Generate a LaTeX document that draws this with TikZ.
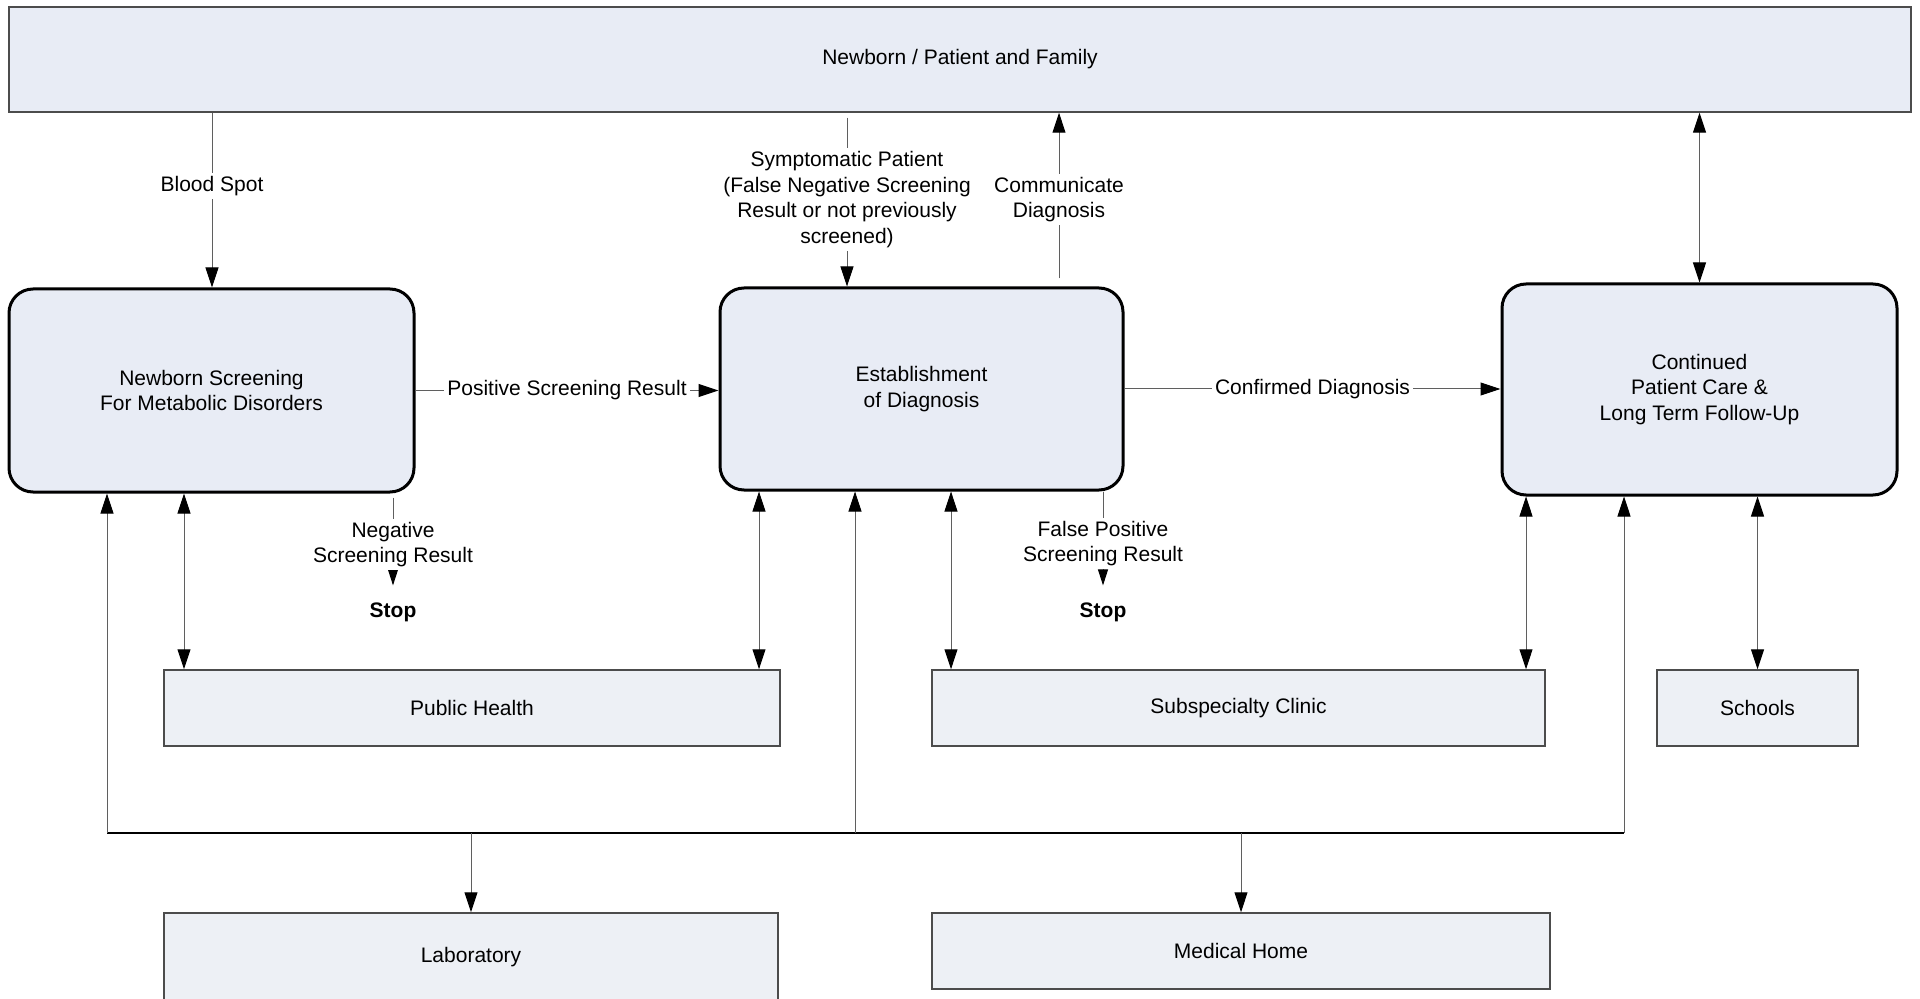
\documentclass[tikz,border=0pt]{standalone}
\usepackage{fontspec}
\setmainfont{Liberation Sans}
\usetikzlibrary{arrows.meta}
\definecolor{boxfill}{RGB}{232,236,245}
\definecolor{lowfill}{RGB}{237,240,245}
\definecolor{wire}{RGB}{95,95,95}
\tikzset{
  txt/.style={font=\fontsize{10.5}{12.8}\selectfont, align=center},
  stage/.style={txt, draw=black, line width=1.5pt, fill=boxfill, rounded corners=12pt},
  party/.style={txt, draw=black!70, line width=0.75pt, fill=lowfill},
  stopnode/.style={txt, font=\fontsize{10.5}{12.8}\selectfont\bfseries},
  conn/.style={draw=wire, line width=0.5pt},
  arr/.style={conn, -{Triangle[length=10pt,width=6.5pt,color=black]}},
  dbl/.style={conn, {Triangle[length=10pt,width=6.5pt,color=black]}-{Triangle[length=10pt,width=6.5pt,color=black]}},
  halt/.style={conn, shorten <=2pt, shorten >=5pt, -{Triangle[length=8pt,width=5pt,color=black]}},
  lbl/.style={txt, fill=white, inner sep=1.5pt},
}
\begin{document}
\begin{tikzpicture}[x=0.5pt,y=0.5pt,yscale=-1,xscale=1]
\useasboundingbox (0,0) rectangle (1920,999);

%Rectangles
\node[party, fill=boxfill, minimum width=951pt, minimum height=52.5pt] (fam) at (960,59.5) {Newborn / Patient and Family};
\node[party, minimum width=308pt, minimum height=38pt] (pubh) at (472,708) {Public Health};
\node[party, minimum width=306.5pt, minimum height=38pt] (subc) at (1238.5,708) {Subspecialty Clinic};
\node[party, minimum width=100.5pt, minimum height=38pt] (schl) at (1757.5,708) {Schools};
\node[party, minimum width=307pt, minimum height=44pt] (lab) at (471,957) {Laboratory};
\node[party, minimum width=309pt, minimum height=38pt] (mhome) at (1241,951) {Medical Home};

%Rounded Rect
\node[stage, minimum width=202.5pt, minimum height=101.5pt] (nbs) at (211.5,390.5) {Newborn Screening\\For Metabolic Disorders};
\node[stage, minimum width=201.5pt, minimum height=101pt] (est) at (921.5,389) {Establishment\\of Diagnosis};
\node[stage, minimum width=197.5pt, minimum height=105.5pt] (care) at (1699.5,389.5) {Continued\\Patient Care \&\\Long Term Follow-Up};

%Stops
\node[stopnode] (stopA) at (393,612) {Stop};
\node[stopnode] (stopB) at (1103,612) {Stop};

%Straight Lines
\draw[arr] (fam.south -| 212,0) -- node[lbl, pos=.42] {Blood Spot} (nbs.north -| 212,0);
\draw[arr, shorten <=2.5pt] (fam.south -| 847,0) -- node[lbl] {Symptomatic Patient\\(False Negative Screening\\Result or not previously\\screened)} (est.north -| 847,0);
\draw[arr, shorten <=4pt] (est.north -| 1059,0) -- node[lbl] {Communicate\\Diagnosis} (fam.south -| 1059,0);
\draw[dbl] (fam.south -| care.north) -- (care.north);
\draw[arr] (nbs.east) -- node[lbl] {Positive Screening Result} (nbs.east -| est.west);
\draw[arr] (est.east) -- node[lbl] {Confirmed Diagnosis} (est.east -| care.west);
\draw[halt] (nbs.south -| stopA) -- node[lbl] {Negative\\Screening Result} (stopA);
\draw[halt, shorten <=0pt] (est.south -| stopB) -- node[lbl] {False Positive\\Screening Result} (stopB);

%Double Arrows
\draw[dbl] (nbs.south -| 184,0) -- (pubh.north -| 184,0);
\draw[dbl] (est.south -| 759,0) -- (pubh.north -| 759,0);
\draw[dbl] (est.south -| 951,0) -- (subc.north -| 951,0);
\draw[dbl] (care.south -| 1526,0) -- (subc.north -| 1526,0);
\draw[dbl] (care.south -| schl.north) -- (schl.north);

%Bus Line
\coordinate (busL) at (107,833);
\coordinate (busR) at (1624,833);
\draw[conn, draw=black, line width=0.8pt] (busL) -- (busR);
\draw[arr] (busL) -- (nbs.south -| busL);
\draw[arr] (855,833) -- (est.south -| 855,0);
\draw[arr] (busR) -- (care.south -| busR);
\draw[arr] (lab.north |- busL) -- (lab.north);
\draw[arr] (mhome.north |- busL) -- (mhome.north);

\end{tikzpicture}
\end{document}
